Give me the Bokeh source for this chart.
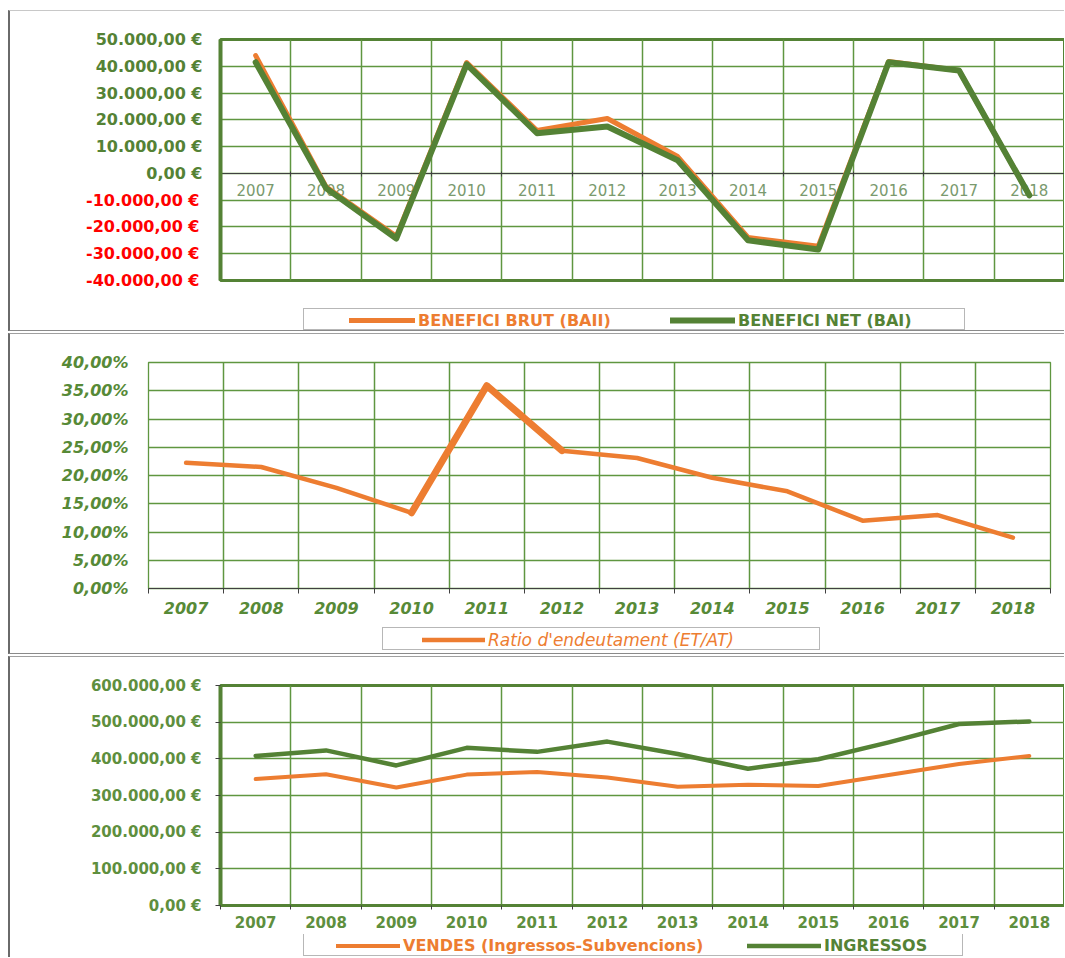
from bokeh.plotting import figure
from bokeh.models import Range1d, FixedTicker, Legend, LegendItem, LinearAxis, Spacer
from bokeh.layouts import column, row
from bokeh.embed import file_html
from bokeh.resources import INLINE

# ---------------- data ----------------
years = [2007, 2008, 2009, 2010, 2011, 2012, 2013, 2014, 2015, 2016, 2017, 2018]

benefici_brut = [44000, -5000, -23500, 41400, 16000, 20500, 6300, -23900, -27200, 41800, 38400, -8200]
benefici_net = [41500, -5500, -24300, 40700, 15000, 17500, 4900, -25000, -28400, 41500, 38400, -8200]

ratio_endeutament = [22.25, 21.5, 17.8, 13.4, 35.9, 24.4, 23.1, 19.6, 17.2, 12.0, 13.0, 9.0]

vendes = [345000, 358000, 322000, 357000, 364000, 349000, 324000, 329000, 326000, 356000, 386000, 408000]
ingressos = [408000, 423000, 382000, 430000, 419000, 447000, 413000, 373000, 399000, 445000, 495000, 502000]

benefici_ticks = [-40000, -30000, -20000, -10000, 0, 10000, 20000, 30000, 40000, 50000]
benefici_labels = ["-40.000,00 €", "-30.000,00 €", "-20.000,00 €", "-10.000,00 €", "0,00 €",
                   "10.000,00 €", "20.000,00 €", "30.000,00 €", "40.000,00 €", "50.000,00 €"]
ratio_ticks = [0, 5, 10, 15, 20, 25, 30, 35, 40]
ratio_labels = ["0,00%", "5,00%", "10,00%", "15,00%", "20,00%", "25,00%", "30,00%", "35,00%", "40,00%"]
ingressos_ticks = [0, 100000, 200000, 300000, 400000, 500000, 600000]
ingressos_labels = ["0,00 €", "100.000,00 €", "200.000,00 €", "300.000,00 €",
                    "400.000,00 €", "500.000,00 €", "600.000,00 €"]

label_brut = "BENEFICI BRUT (BAII)"
label_net = "BENEFICI NET (BAI)"
label_ratio = "Ratio d'endeutament (ET/AT)"
label_vendes = "VENDES (Ingressos-Subvencions)"
label_ingressos = "INGRESSOS"

# ---------------- styles ----------------
ORANGE = "#ED7D31"
GREEN = "#548235"
GRID = "#5f9640"
TXT_GREEN = "#548235"
XLAB_GRAY = "#7a9a6e"
RED = "#FF0000"
DARK = "#404040"
FONT = "DejaVu Sans"
W = 1056
LEFT_BORDER = "2px solid #6a6a6a"

bounds = [y - 0.5 for y in years] + [years[-1] + 0.5]


def base_fig(height, yr, mbl, mbr, mbt, mbb, outline_color, outline_width, styles):
    p = figure(width=W, height=height,
               x_range=Range1d(bounds[0], bounds[-1]), y_range=yr,
               output_backend="svg", toolbar_location=None, frame_align=False,
               min_border_left=mbl, min_border_right=mbr, min_border_top=mbt, min_border_bottom=mbb,
               background_fill_color="white", border_fill_color="white",
               outline_line_color=outline_color, outline_line_width=outline_width,
               styles=styles)
    xa = p.xaxis[0]
    xa.ticker = FixedTicker(ticks=years, minor_ticks=bounds)
    xa.major_tick_in = 0
    xa.major_tick_out = 0
    xa.minor_tick_in = 0
    xa.minor_tick_out = 4
    xa.minor_tick_line_color = DARK
    p.xgrid.ticker = FixedTicker(ticks=bounds)
    p.xgrid.grid_line_color = GRID
    p.xgrid.grid_line_width = 1.5
    p.ygrid.grid_line_color = GRID
    p.ygrid.grid_line_width = 1.5
    return p


def legend_fig(height, styles):
    p = figure(width=W, height=height, x_range=Range1d(0, 1), y_range=Range1d(0, 1),
               x_axis_type=None, y_axis_type=None,
               output_backend="svg", toolbar_location=None, frame_align=False,
               min_border_left=0, min_border_right=0, min_border_top=0, min_border_bottom=0,
               outline_line_color=None, background_fill_color="white",
               border_fill_color="white", styles=styles)
    return p


def legend_box(p, xs, ys, vx, vy, w, h=21):
    # series lies far outside this strip's ranges: only its legend entry is visible
    proxy = p.line(xs, ys, line_alpha=0)
    leg = Legend(items=[LegendItem(label="\u00a0", renderers=[proxy])],
                 location=(vx, vy), orientation="horizontal",
                 padding=0, margin=0, spacing=0,
                 glyph_width=w - 10, glyph_height=h, label_width=10, label_height=h,
                 label_standoff=0, label_text_font_size="10px",
                 border_line_color="#6f6f6f", border_line_width=1.2,
                 background_fill_color="white", background_fill_alpha=1.0)
    p.add_layout(leg)


def legend_item(p, xs, ys, label, color, lw, vx, vy, glyph_w, style, size, h=21):
    proxy = p.line(xs, ys, line_color=color, line_width=lw, line_cap="round")
    leg = Legend(items=[LegendItem(label=label, renderers=[proxy])],
                 location=(vx, vy), orientation="horizontal",
                 padding=0, margin=0, spacing=0,
                 glyph_width=glyph_w, glyph_height=h, label_height=h,
                 label_standoff=3, label_text_color=color, label_text_font=FONT,
                 label_text_font_style=style, label_text_font_size=size,
                 border_line_color=None, background_fill_alpha=0.0)
    p.add_layout(leg)


# ---------------- chart 1: beneficis ----------------
p1 = base_fig(298, Range1d(benefici_ticks[0], benefici_ticks[-1]), 210, 2, 28, 29, GREEN, 3,
              {"border-left": LEFT_BORDER, "border-top": "1px solid #c8c8c8"})
yt1 = FixedTicker(ticks=benefici_ticks, minor_ticks=[])
ya = p1.yaxis[0]
ya.ticker = yt1
p1.ygrid.ticker = yt1
ya.major_label_overrides = {t: (lab if t >= 0 else "") for t, lab in zip(benefici_ticks, benefici_labels)}
ya.axis_line_color = GREEN
ya.axis_line_width = 4
ya.major_tick_in = 0
ya.major_tick_out = 0
ya.major_label_standoff = 18
ya.major_label_text_font = FONT
ya.major_label_text_font_style = "bold"
ya.major_label_text_font_size = "16px"
ya.major_label_text_color = TXT_GREEN

# negative values in red: a second left axis drawn over the same label column
neg_axis = LinearAxis(ticker=yt1,
                      major_label_overrides={t: (lab if t < 0 else "") for t, lab in
                                             zip(benefici_ticks, benefici_labels)},
                      axis_line_color=None, major_tick_in=0, major_tick_out=0,
                      minor_tick_in=0, minor_tick_out=0, major_label_standoff=-107,
                      major_label_text_font=FONT, major_label_text_font_style="bold",
                      major_label_text_font_size="16px", major_label_text_color=RED)
p1.add_layout(neg_axis, "left")

xa = p1.xaxis[0]
xa.fixed_location = 0
xa.axis_line_color = DARK
xa.axis_line_width = 1.2
xa.minor_tick_in = 2
xa.minor_tick_out = 3
xa.major_label_standoff = 8
xa.major_label_text_font = FONT
xa.major_label_text_font_size = "15px"
xa.major_label_text_color = XLAB_GRAY

p1.line(years, benefici_brut, line_color=ORANGE, line_width=5, line_join="round",
        line_cap="round", level="overlay")
p1.line(years, benefici_net, line_color=GREEN, line_width=6, line_join="round",
        line_cap="round", level="overlay")

l1 = legend_fig(23, {"border-left": LEFT_BORDER, "border-bottom": "1px solid #8a8a8a"})
legend_box(l1, years, benefici_net, 293, 1, 660, 20)
legend_item(l1, years, benefici_brut, label_brut, ORANGE, 5, 339, 1, 66, "bold", "16px", 20)
legend_item(l1, years, benefici_net, label_net, GREEN, 6, 660, 1, 65, "bold", "16px", 20)

# ---------------- chart 2: ratio ----------------
p2 = base_fig(290, Range1d(ratio_ticks[0], ratio_ticks[-1]), 138, 16, 28, 36, GRID, 1.3,
              {"border-left": LEFT_BORDER, "border-top": "1px solid #a0a0a0"})
yt2 = FixedTicker(ticks=ratio_ticks, minor_ticks=[])
ya = p2.yaxis[0]
ya.ticker = yt2
p2.ygrid.ticker = yt2
ya.major_label_overrides = {t: lab for t, lab in zip(ratio_ticks, ratio_labels)}
ya.axis_line_color = None
ya.major_tick_in = 0
ya.major_tick_out = 0
ya.major_label_standoff = 20
ya.major_label_text_font = FONT
ya.major_label_text_font_style = "bold italic"
ya.major_label_text_font_size = "16px"
ya.major_label_text_color = "#578a37"

xa = p2.xaxis[0]
xa.axis_line_color = DARK
xa.axis_line_width = 1.2
xa.minor_tick_out = 5
xa.major_label_standoff = 8
xa.major_label_text_font = FONT
xa.major_label_text_font_style = "bold italic"
xa.major_label_text_font_size = "16px"
xa.major_label_text_color = "#578a37"

p2.line(years, ratio_endeutament, line_color=ORANGE, line_width=4.5, line_join="round",
        line_cap="round")
p2.line(years[3:6], ratio_endeutament[3:6], line_color=ORANGE, line_width=7, line_join="round",
        line_cap="round")

l2 = legend_fig(31, {"border-left": LEFT_BORDER, "border-bottom": "1px solid #8a8a8a"})
legend_box(l2, years, ratio_endeutament, 372, 4, 436)
legend_item(l2, years, ratio_endeutament, label_ratio, ORANGE, 4.5, 412, 4, 63, "italic", "17px")

# ---------------- chart 3: vendes / ingressos ----------------
p3 = base_fig(278, Range1d(ingressos_ticks[0], ingressos_ticks[-1]), 210, 2, 28, 30, GREEN, 3,
              {"border-left": LEFT_BORDER, "border-top": "1px solid #a0a0a0"})
yt3 = FixedTicker(ticks=ingressos_ticks, minor_ticks=[])
ya = p3.yaxis[0]
ya.ticker = yt3
p3.ygrid.ticker = yt3
ya.major_label_overrides = {t: lab for t, lab in zip(ingressos_ticks, ingressos_labels)}
ya.axis_line_color = GREEN
ya.axis_line_width = 4
ya.major_tick_in = 0
ya.major_tick_out = 5
ya.major_tick_line_color = DARK
ya.major_label_standoff = 14
ya.major_label_text_font = FONT
ya.major_label_text_font_style = "bold"
ya.major_label_text_font_size = "15px"
ya.major_label_text_color = "#5e8f3e"

xa = p3.xaxis[0]
xa.axis_line_color = GREEN
xa.axis_line_width = 3
xa.minor_tick_out = 4
xa.major_label_standoff = 6
xa.major_label_text_font = FONT
xa.major_label_text_font_style = "bold"
xa.major_label_text_font_size = "15px"
xa.major_label_text_color = "#5e8f3e"

p3.line(years, vendes, line_color=ORANGE, line_width=4, line_join="round", line_cap="round")
p3.line(years, ingressos, line_color=GREEN, line_width=4.5, line_join="round", line_cap="round")

l3 = legend_fig(23, {"border-left": LEFT_BORDER})
legend_box(l3, years, ingressos, 293, 1, 658)
legend_item(l3, years, vendes, label_vendes, ORANGE, 4, 326, 1, 64, "bold", "16px")
legend_item(l3, years, ingressos, label_ingressos, GREEN, 4.5, 737, 1, 74, "bold", "16px")

layout = row(Spacer(width=8),
             column(Spacer(height=10), p1, l1, Spacer(height=2), p2, l2, Spacer(height=2), p3, l3,
                    spacing=0),
             spacing=0)
open("out.html", "w").write(file_html(layout, INLINE))
